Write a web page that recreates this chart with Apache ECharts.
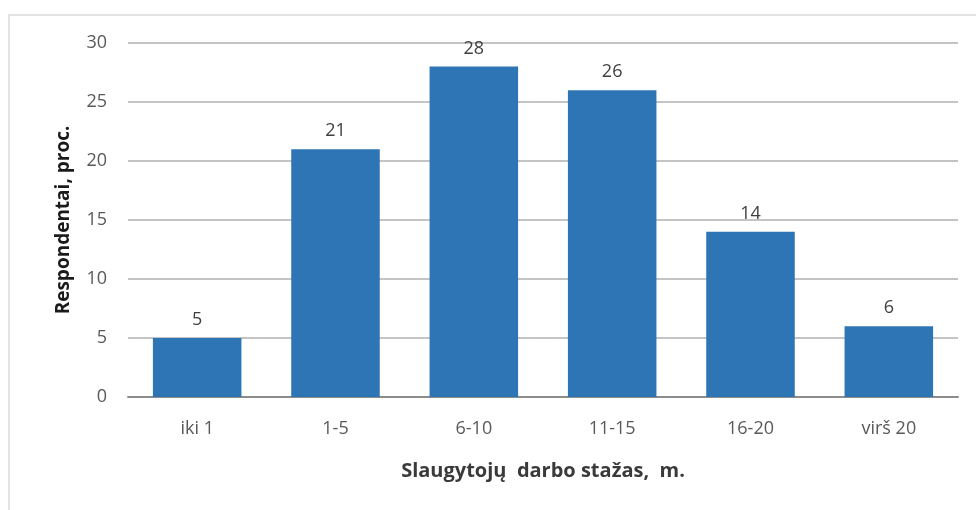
<!DOCTYPE html>
<html>
<head>
<meta charset="utf-8">
<script src="https://cdn.jsdelivr.net/npm/echarts@6/dist/echarts.min.js"></script>
<style>
  html, body { margin: 0; padding: 0; background: #fff; }
  #frame { position: absolute; left: 8px; top: 14px; width: 980px; height: 520px; border: 2px solid #e3e3e3; box-sizing: border-box; }
  #chart { position: absolute; left: 0; top: 0; width: 976px; height: 510px; }
</style>
</head>
<body>
<div id="frame"></div>
<div id="chart"></div>
<script>
// duomenys
const categories = ['iki 1', '1-5', '6-10', '11-15', '16-20', 'virš 20'];
const values = [5, 21, 28, 26, 14, 6];
const yTicks = [0, 5, 10, 15, 20, 25, 30];

const chart = echarts.init(document.getElementById('chart'));
const font = '"Open Sans", sans-serif';

chart.setOption({
  animation: false,
  grid: { left: 128, right: 18, top: 43, bottom: 113 },
  xAxis: {
    type: 'category',
    data: categories,
    name: 'Slaugytojų  darbo stažas,  m.',
    nameLocation: 'middle',
    nameGap: 64,
    nameTextStyle: { fontFamily: font, fontSize: 20, fontWeight: 'bold', color: '#3a3a3a' },
    axisLine: { lineStyle: { color: '#8c8c8c', width: 2 } },
    axisTick: { show: false },
    axisLabel: { fontFamily: font, fontSize: 18, color: '#595959', margin: 23 }
  },
  yAxis: {
    type: 'value',
    min: yTicks[0],
    max: yTicks[yTicks.length - 1],
    interval: 5,
    name: 'Respondentai, proc.',
    nameLocation: 'middle',
    nameGap: 55,
    nameTextStyle: { fontFamily: font, fontSize: 19, fontWeight: 'bold', color: '#1a1a1a' },
    axisLine: { show: false },
    axisTick: { show: false },
    axisLabel: { fontFamily: font, fontSize: 18, color: '#595959', margin: 21 },
    splitLine: { lineStyle: { color: '#c4c4c4', width: 2 } }
  },
  series: [{
    type: 'bar',
    data: values,
    barWidth: '64%',
    itemStyle: { color: '#2e75b6' },
    label: {
      show: true,
      position: 'top',
      distance: 9,
      fontFamily: font,
      fontSize: 18,
      color: '#404040'
    }
  }]
});
</script>
</body>
</html>
